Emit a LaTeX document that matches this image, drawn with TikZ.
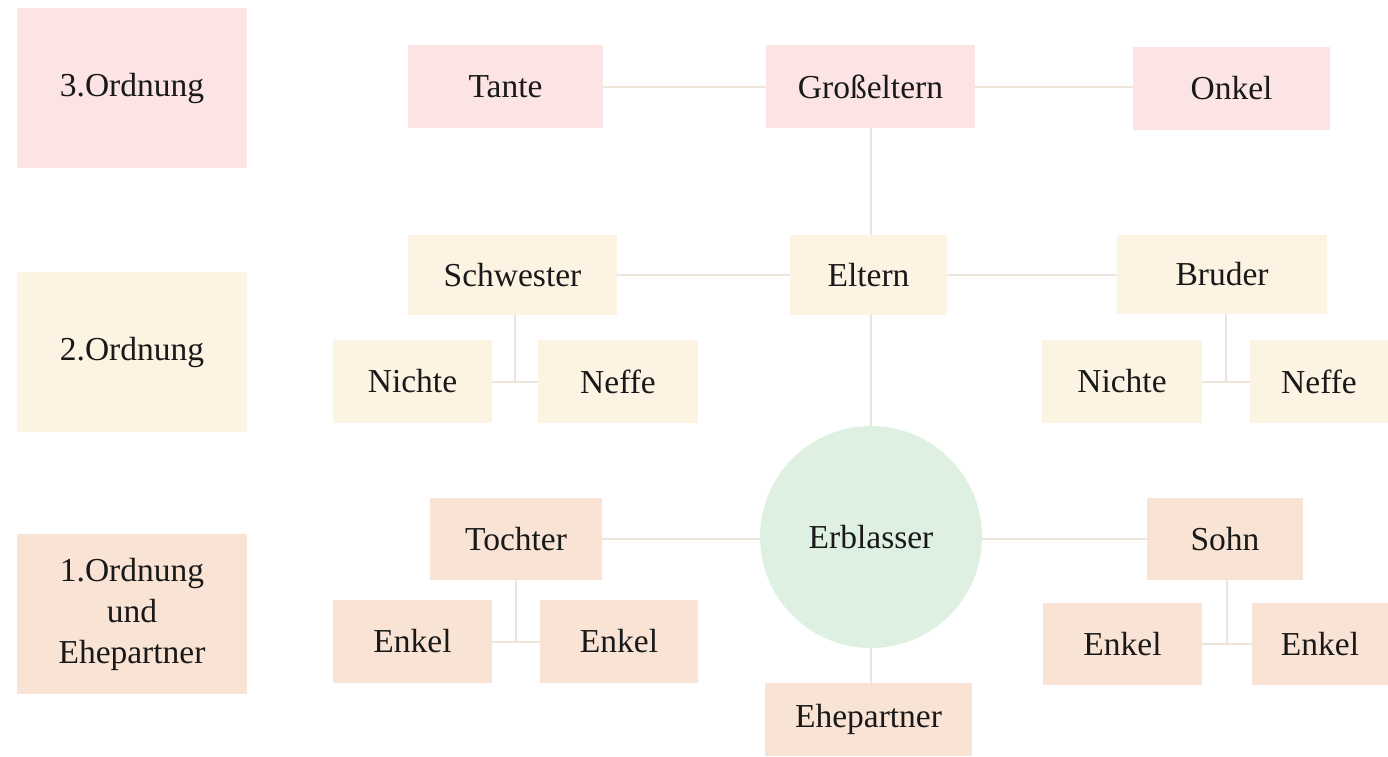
\documentclass[tikz,border=0pt]{standalone}
\usepackage{fontspec}
\setmainfont{Liberation Serif}
\usetikzlibrary{calc}
\definecolor{pinkbox}{HTML}{FCE4E4}
\definecolor{creambox}{HTML}{FDF3E3}
\definecolor{peachbox}{HTML}{F8E3D4}
\definecolor{greencirc}{HTML}{DDF0E2}
\definecolor{linkcol}{HTML}{EDE4DA}
\begin{document}
\begin{tikzpicture}[x=1pt,y=-1pt,
  base/.style={inner sep=0pt,font=\fontsize{33.5}{41}\selectfont,text=black!90,align=center},
  bthree/.style={base,fill=pinkbox},
  btwo/.style={base,fill=creambox},
  bone/.style={base,fill=peachbox},
  link/.style={draw=linkcol,line width=2pt}]
\useasboundingbox (0,0) rectangle (1388,756);
% legend
\node[bthree,minimum width=230pt,minimum height=160pt] (o3) at (132,88) {3.Ordnung};
\node[btwo,minimum width=230pt,minimum height=160pt] (o2) at (132,352) {2.Ordnung};
\node[bone,minimum width=230pt,minimum height=160pt] (o1) at (132,614) {1.Ordnung\\und\\Ehepartner};
% 3rd order
\node[bthree,minimum width=195pt,minimum height=83pt] (tante) at (505.5,86.5) {Tante};
\node[bthree,minimum width=209pt,minimum height=83pt] (gross) at (870.5,86.5) {Großeltern};
\node[bthree,minimum width=197pt,minimum height=83pt] (onkel) at (1231.5,88.5) {Onkel};
% 2nd order
\node[btwo,minimum width=209pt,minimum height=80pt] (schw) at (512.5,275) {Schwester};
\node[btwo,minimum width=157pt,minimum height=80pt] (eltern) at (868.5,275) {Eltern};
\node[btwo,minimum width=210pt,minimum height=79pt] (bruder) at (1222,274) {Bruder};
\node[btwo,minimum width=159pt,minimum height=83pt] (nichteL) at (412.5,381.5) {Nichte};
\node[btwo,minimum width=160pt,minimum height=83pt] (neffeL) at (618,381.5) {Neffe};
\node[btwo,minimum width=160pt,minimum height=83pt] (nichteR) at (1122,381.5) {Nichte};
\node[btwo,minimum width=138pt,minimum height=83pt] (neffeR) at (1319,381.5) {Neffe};
% 1st order
\node[base,circle,fill=greencirc,minimum size=222pt] (erb) at (871,537) {Erblasser};
\node[bone,minimum width=172pt,minimum height=82pt] (tochter) at (516,539) {Tochter};
\node[bone,minimum width=159pt,minimum height=83pt] (enkelA) at (412.5,641.5) {Enkel};
\node[bone,minimum width=158pt,minimum height=83pt] (enkelB) at (619,641.5) {Enkel};
\node[bone,minimum width=156pt,minimum height=82pt] (sohn) at (1225,539) {Sohn};
\node[bone,minimum width=159pt,minimum height=82pt] (enkelC) at (1122.5,644) {Enkel};
\node[bone,minimum width=136pt,minimum height=82pt] (enkelD) at (1320,644) {Enkel};
\node[bone,minimum width=207pt,minimum height=73pt] (ehe) at (868.5,719.5) {Ehepartner};
% connectors
\draw[link] (tante.east) -- (gross.west);
\draw[link] (gross.east) -- (gross.east -| onkel.west);
\draw[link] (gross.south -| erb.north) -- (eltern.north -| erb.north);
\draw[link] (schw.east) -- (eltern.west);
\draw[link] (eltern.east) -- (eltern.east -| bruder.west);
\draw[link] (eltern.south -| erb.north) -- (erb.north);
\draw[link] (tochter.east) -- (tochter.east -| erb.west);
\draw[link] (erb.east |- sohn.west) -- (sohn.west);
\draw[link] (erb.south) -- (ehe.north -| erb.south);
\coordinate (js) at ($(nichteL.east)!0.5!(neffeL.west)$);
\draw[link] (schw.south -| js) -- (js);
\draw[link] (nichteL.east) -- (neffeL.west);
\coordinate (jb) at ($(nichteR.east)!0.5!(neffeR.west)$);
\draw[link] (bruder.south -| jb) -- (jb);
\draw[link] (nichteR.east) -- (neffeR.west);
\coordinate (jt) at ($(enkelA.east)!0.5!(enkelB.west)$);
\draw[link] (tochter.south -| jt) -- (jt);
\draw[link] (enkelA.east) -- (enkelB.west);
\coordinate (jo) at ($(enkelC.east)!0.5!(enkelD.west)$);
\draw[link] (sohn.south -| jo) -- (jo);
\draw[link] (enkelC.east) -- (enkelD.west);
\end{tikzpicture}
\end{document}
